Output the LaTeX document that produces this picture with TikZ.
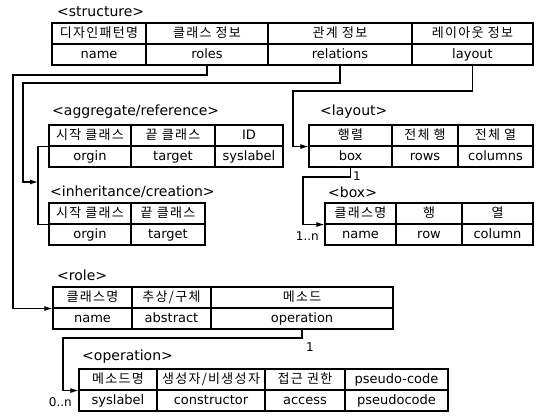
\documentclass[tikz,border=0pt]{standalone}
\usepackage{fontspec}
\setmainfont{DejaVu Sans}
\newfontfamily\kr[LetterSpace=10]{Noto Sans CJK KR}
\usetikzlibrary{arrows.meta}
\tikzset{
 cell/.style={draw, line width=1.1pt, inner sep=0pt, minimum height=21pt, text height=9.5pt, text depth=2.5pt, font=\fontsize{13}{15}\selectfont},
 kcell/.style={cell, font=\fontsize{13}{15}\selectfont\kr},
 lab/.style={anchor=west, inner sep=0pt, font=\fontsize{14}{16}\selectfont},
 conn/.style={line width=1.1pt},
 arr/.style={conn, -{Latex[length=8pt,width=5pt]}},
 mult/.style={inner sep=0pt, font=\fontsize{12}{14}\selectfont},
}
\newcommand\tcell[6]{%
 \pgfmathsetmacro\tcX{(#3+#4)/2}\pgfmathsetmacro\tcW{#4-#3}\pgfmathsetmacro\tcY{#5+10.5}%
 \node[#1, minimum width=\tcW pt] (#2) at (\tcX,\tcY) {#6};}
\begin{document}
\begin{tikzpicture}[x=1pt,y=-1pt]
\useasboundingbox[fill=white] (0,0) rectangle (543,415);
% structure
\node[lab] (lstruct) at (57,12) {<structure>};
\tcell{kcell}{s1}{52}{146}{23}{디자인패턴명}
\tcell{kcell}{s2}{146}{268}{23}{클래스 정보}
\tcell{kcell}{s3}{268}{412}{23}{관계 정보}
\tcell{kcell}{s4}{412}{533}{23}{레이아웃 정보}
\tcell{cell}{t1}{52}{146}{44}{name}
\tcell{cell}{t2}{146}{268}{44}{roles}
\tcell{cell}{t3}{268}{412}{44}{relations}
\tcell{cell}{t4}{412}{533}{44}{layout}
% aggregate
\node[lab] (lagg) at (52,112) {<aggregate/reference>};
\tcell{kcell}{a1}{49}{131}{125}{시작 클래스}
\tcell{kcell}{a2}{131}{215}{125}{끝 클래스}
\tcell{cell}{a3}{215}{283}{125}{ID}
\tcell{cell}{b1}{49}{131}{146}{orgin}
\tcell{cell}{b2}{131}{215}{146}{target}
\tcell{cell}{b3}{215}{283}{146}{syslabel}
% inheritance
\node[lab] (linh) at (50,192) {<inheritance/creation>};
\tcell{kcell}{i1}{49}{131}{203}{시작 클래스}
\tcell{kcell}{i2}{131}{205}{203}{끝 클래스}
\tcell{cell}{j1}{49}{131}{224}{orgin}
\tcell{cell}{j2}{131}{205}{224}{target}
% layout
\node[lab] (llay) at (320,112) {<layout>};
\tcell{kcell}{l1}{309}{392}{125}{행렬}
\tcell{kcell}{l2}{392}{458}{125}{전체 행}
\tcell{kcell}{l3}{458}{533}{125}{전체 열}
\tcell{cell}{m1}{309}{392}{146}{box}
\tcell{cell}{m2}{392}{458}{146}{rows}
\tcell{cell}{m3}{458}{533}{146}{columns}
% box
\node[lab] (lbox) at (328,192) {<box>};
\tcell{kcell}{bx1}{325}{396}{203}{클래스명}
\tcell{kcell}{bx2}{396}{462}{203}{행}
\tcell{kcell}{bx3}{462}{533}{203}{열}
\tcell{cell}{by1}{325}{396}{224}{name}
\tcell{cell}{by2}{396}{462}{224}{row}
\tcell{cell}{by3}{462}{533}{224}{column}
% role
\node[lab] (lrole) at (57,275) {<role>};
\tcell{kcell}{r1}{53}{132}{287}{클래스명}
\tcell{kcell}{r2}{132}{211}{287}{추상/구체}
\tcell{kcell}{r3}{211}{393}{287}{메소드}
\tcell{cell}{q1}{53}{132}{308}{name}
\tcell{cell}{q2}{132}{211}{308}{abstract}
\tcell{cell}{q3}{211}{393}{308}{operation}
% operation
\node[lab] (lop) at (82,357) {<operation>};
\tcell{kcell}{o1}{79}{157}{369}{메소드명}
\tcell{kcell}{o2}{157}{265}{369}{생성자/비생성자}
\tcell{kcell}{o3}{265}{345}{369}{접근 권한}
\tcell{cell}{o4}{345}{448}{369}{pseudo-code}
\tcell{cell}{p1}{79}{157}{390}{syslabel}
\tcell{cell}{p2}{157}{265}{390}{constructor}
\tcell{cell}{p3}{265}{345}{390}{access}
\tcell{cell}{p4}{345}{448}{390}{pseudocode}
% connectors
\coordinate (c1) at (13,75);
\coordinate (c2) at (23,83);
\coordinate (br) at (38,182);
\coordinate (c3) at (293,91);
\coordinate (c4) at (303,177);
\coordinate (c5) at (63,338);
\draw[arr] (t2.south) |- (c1) |- (r1.south west);
\draw[arr] (t3.south) |- (c2) |- (br);
\draw[conn] (a1.south west) -| (br) |- (i1.south west);
\draw[arr] (t4.south) |- (c3) |- (l1.south west);
\draw[arr] (m1.south) |- (c4) |- (bx1.south west);
\draw[arr] (q3.south) |- (c5) |- (o1.south west);
% multiplicities
\node[mult] (n1) at (357,176) {1};
\node[mult, anchor=east] (n2) at (319,236) {1..n};
\node[mult] (n3) at (310,347) {1};
\node[mult, anchor=east] (n4) at (72,402) {0..n};
\end{tikzpicture}
\end{document}
